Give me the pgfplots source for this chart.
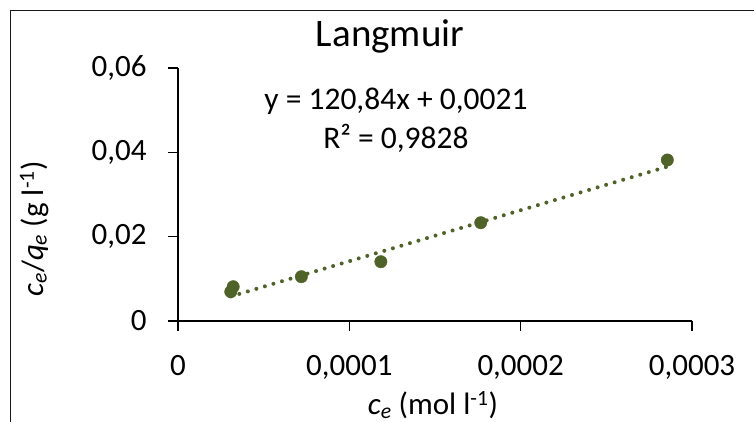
\documentclass[border=0pt]{standalone}
\usepackage{fontspec}
\setmainfont{Carlito}
\usepackage{pgfplots}
\pgfplotsset{compat=1.18}
\definecolor{olivedot}{RGB}{79,98,40}
\begin{document}
\begin{tikzpicture}
\begin{axis}[
  at={(0pt,0pt)}, anchor=origin,
  scale only axis, width=514pt, height=253pt,
  xmin=0, xmax=0.0003, ymin=0, ymax=0.06,
  axis x line=bottom, axis y line=left,
  axis line style={-, line width=1.3pt, black},
  xtick={0,0.0001,0.0002,0.0003},
  ytick={0,0.02,0.04,0.06},
  scaled x ticks=false, scaled y ticks=false,
  tick align=outside, major tick length=10pt,
  tick style={line width=1.3pt, black},
  xticklabel style={yshift=-21pt, /pgf/number format/.cd, fixed, precision=4, use comma, assume math mode=true},
  yticklabel style={xshift=-18pt, /pgf/number format/.cd, fixed, precision=2, use comma, assume math mode=true},
  ticklabel style={font=\fontsize{31}{37}\selectfont},
  clip=false,
  title={Langmuir},
  title style={at={(axis description cs:0.4125,1.062)}, anchor=base, font=\fontsize{39}{46}\selectfont},
  xlabel={\textit{c}\textsubscript{\textit{e}} (mol l\textsuperscript{-1})},
  xlabel style={at={(axis description cs:0.496,-0.3715)}, anchor=base, font=\fontsize{31}{37}\selectfont},
  ylabel={\textit{c}\textsubscript{\textit{e}}/\textit{q}\textsubscript{\textit{e}} (g l\textsuperscript{-1})},
  ylabel style={at={(axis description cs:-0.2626,0.3636)}, anchor=base, rotate=0, font=\fontsize{31}{37}\selectfont},
]
\addplot[olivedot, line width=4pt, line cap=round, dash pattern=on 0pt off 8.9pt]
  coordinates {(3.08e-5,0.005822) (2.856e-4,0.036612)};
\addplot[only marks, mark=*, mark size=6.2pt, mark options={draw=olivedot, fill=olivedot}]
  coordinates {
    (3.08e-5,0.00695)
    (3.22e-5,0.00813)
    (7.20e-5,0.01051)
    (1.184e-4,0.01406)
    (1.767e-4,0.02331)
    (2.856e-4,0.03818)
  };
\node[anchor=base, font=\fontsize{31.5}{38}\selectfont] at (axis description cs:0.424,0.8368) {y = 120,84x + 0,0021};
\node[anchor=base, font=\fontsize{31.5}{38}\selectfont] at (axis description cs:0.424,0.6826) {R² = 0,9828};
\end{axis}
\draw[line width=1.4pt, black!90] (-167.3pt,-120pt) -- (-167.3pt,310.3pt) -- (600pt,310.3pt);
\pgfresetboundingbox
\path[use as bounding box] (-178pt,-100pt) rectangle (576pt,321pt);
\end{tikzpicture}
\end{document}
